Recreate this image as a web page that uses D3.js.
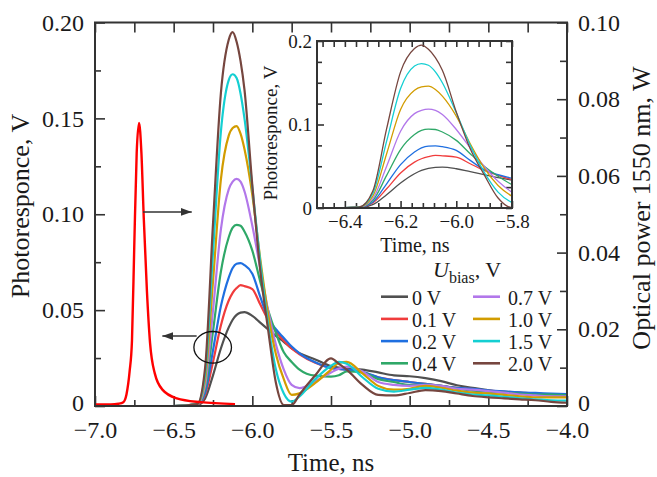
<!doctype html>
<html>
<head>
<meta charset="utf-8"/>
<title>Photoresponce</title>
<script src="https://cdn.jsdelivr.net/npm/d3@7"></script>
<style>
body{margin:0;background:#fff;}
</style>
</head>
<body>
<script>
// time, ns (shared by all bias curves)
var time = [-7.0, -6.5, -6.35, -6.3, -6.25, -6.2,
            -6.15, -6.125, -6.1, -6.075, -6.05, -6.0,
            -5.95, -5.9, -5.85, -5.8, -5.75, -5.7,
            -5.6, -5.5, -5.45, -5.4, -5.3, -5.2,
            -5.1, -5.0, -4.9, -4.8, -4.7, -4.6,
            -4.5, -4.4, -4.3, -4.2, -4.1, -4.0];

var biasLabels = ["0 V", "0.1 V", "0.2 V", "0.4 V", "0.7 V", "1.0 V", "1.5 V", "2.0 V"];
var biasColors = ["#505050", "#f03c3c", "#1f6fe0", "#2fa868", "#b277ea", "#d29c00", "#14cfd2", "#76463f"];

// photoresponce, V
var v00 = [0, 0, 0.0005, 0.004, 0.016, 0.030,
           0.041, 0.045, 0.0475, 0.0487, 0.049, 0.047,
           0.0435, 0.040, 0.0365, 0.0335, 0.030, 0.0275,
           0.0243, 0.0208, 0.020, 0.0195, 0.019, 0.0175,
           0.016, 0.0155, 0.0145, 0.013, 0.0108, 0.0095,
           0.0082, 0.0072, 0.0068, 0.0064, 0.006, 0.0057];
var v01 = [0, 0, 0.0008, 0.006, 0.023, 0.042,
           0.055, 0.059, 0.0615, 0.063, 0.0625, 0.061,
           0.053, 0.045, 0.039, 0.034, 0.030, 0.027,
           0.0225, 0.0198, 0.0193, 0.019, 0.0175, 0.015,
           0.0135, 0.0125, 0.0115, 0.0105, 0.0095, 0.0088,
           0.008, 0.0075, 0.007, 0.0065, 0.0062, 0.006];
var v02 = [0, 0, 0.001, 0.007, 0.029, 0.052,
           0.067, 0.072, 0.0742, 0.0745, 0.0735, 0.069,
           0.057, 0.046, 0.040, 0.0355, 0.031, 0.0275,
           0.0228, 0.0198, 0.0193, 0.019, 0.0178, 0.015,
           0.0135, 0.0125, 0.0115, 0.0105, 0.0095, 0.009,
           0.0082, 0.0076, 0.0071, 0.0068, 0.0065, 0.0062];
var v04 = [0, 0, 0.001, 0.009, 0.039, 0.070,
           0.088, 0.093, 0.0945, 0.094, 0.091, 0.081,
           0.065, 0.050, 0.038, 0.028, 0.023, 0.019,
           0.0158, 0.0153, 0.016, 0.018, 0.0175, 0.014,
           0.0125, 0.011, 0.011, 0.0105, 0.009, 0.008,
           0.0075, 0.007, 0.0065, 0.006, 0.006, 0.0057];
var v07 = [0, 0, 0.001, 0.011, 0.050, 0.092,
           0.113, 0.117, 0.1185, 0.117, 0.112, 0.094,
           0.072, 0.050, 0.032, 0.019, 0.011, 0.0093,
           0.013, 0.0175, 0.0195, 0.0205, 0.018, 0.0125,
           0.011, 0.0105, 0.011, 0.0105, 0.009, 0.0085,
           0.0078, 0.007, 0.006, 0.0055, 0.005, 0.005];
var v10 = [0, 0, 0.001, 0.014, 0.065, 0.118,
           0.141, 0.145, 0.146, 0.142, 0.134, 0.110,
           0.077, 0.048, 0.027, 0.014, 0.0058, 0.0066,
           0.012, 0.019, 0.0225, 0.023, 0.017, 0.0105,
           0.0085, 0.009, 0.0105, 0.0095, 0.008, 0.007,
           0.0066, 0.0058, 0.005, 0.0045, 0.0045, 0.0045];
var v15 = [0, 0, 0.001, 0.017, 0.080, 0.143,
           0.170, 0.173, 0.171, 0.163, 0.150, 0.114,
           0.075, 0.043, 0.019, 0.0065, 0.0023, 0.005,
           0.014, 0.021, 0.023, 0.022, 0.015, 0.009,
           0.0075, 0.0085, 0.0095, 0.0085, 0.007, 0.006,
           0.0055, 0.0048, 0.004, 0.0035, 0.003, 0.0028];
var v20 = [0, 0, 0.001, 0.020, 0.095, 0.163,
           0.191, 0.195, 0.190, 0.180, 0.165, 0.115,
           0.071, 0.040, 0.012, 0.0005, 0.0005, 0.006,
           0.016, 0.0248, 0.022, 0.019, 0.011, 0.0058,
           0.0055, 0.0068, 0.0083, 0.0078, 0.0065, 0.0052,
           0.0045, 0.004, 0.0035, 0.003, 0.0022, 0.0017];
var biasSeries = [v00, v01, v02, v04, v07, v10, v15, v20];

// optical pulse, W (right axis)
var optTime  = [-7.0, -6.9, -6.85, -6.82, -6.8, -6.78, -6.765, -6.75, -6.735, -6.72,
                -6.705, -6.69, -6.67, -6.65, -6.62, -6.57, -6.48, -6.33, -6.11];
var optPower = [0.0004, 0.0004, 0.0006, 0.001, 0.003, 0.009, 0.017, 0.0425, 0.066, 0.0738,
                0.066, 0.049, 0.030, 0.0164, 0.0085, 0.0042, 0.002, 0.001, 0.0005];

var xTicks = [-7.0, -6.5, -6.0, -5.5, -5.0, -4.5, -4.0];
var yTicks = [0, 0.05, 0.10, 0.15, 0.20];
var y2Ticks = [0, 0.02, 0.04, 0.06, 0.08, 0.10];
var insetXTicks = [-6.4, -6.2, -6.0, -5.8];
var insetYTicks = [0, 0.1, 0.2];

var serif = '"Liberation Serif","Times New Roman",serif';
var ink = "#333";

var svg = d3.select("body").append("svg")
    .attr("width", 657).attr("height", 477)
    .style("font-family", serif);

var x = d3.scaleLinear().domain([-7, -4]).range([95, 567]);
var y = d3.scaleLinear().domain([0, 0.2]).range([406, 22.5]);
var y2 = d3.scaleLinear().domain([0, 0.1]).range([406, 22.5]);

function fmt(n){
  return function(d){ return Math.abs(d) < 1e-9 ? "0" : d3.format("." + n + "f")(d); };
}

function putAxis(axis, tx, ty, fs){
  var g = svg.append("g").attr("transform", "translate(" + tx + "," + ty + ")").call(axis);
  g.select(".domain").remove();
  g.attr("font-family", serif).attr("font-size", fs);
  g.selectAll(".tick line").attr("stroke", ink).attr("stroke-width", 1.6);
  g.selectAll(".tick text").attr("fill", "#1a1a1a");
  return g;
}

function minorOf(lo, hi, step, majors){
  return d3.range(lo, hi + step / 2, step).filter(function(v){
    return !majors.some(function(m){ return Math.abs(m - v) < step / 4; });
  });
}

// clip paths
var defs = svg.append("defs");
defs.append("clipPath").attr("id", "clipMain").append("rect")
    .attr("x", 95).attr("y", 22.5).attr("width", 472).attr("height", 383.5);
defs.append("clipPath").attr("id", "clipInset").append("rect")
    .attr("x", 317).attr("y", 41).attr("width", 195).attr("height", 167);
defs.append("marker").attr("id", "arr")
    .attr("markerUnits", "userSpaceOnUse")
    .attr("markerWidth", 11).attr("markerHeight", 8)
    .attr("refX", 11).attr("refY", 4).attr("orient", "auto")
    .append("path").attr("d", "M0,0 L11,4 L0,8 Z").attr("fill", ink);

// main axes
putAxis(d3.axisBottom(x).tickValues(xTicks).tickSize(-10).tickPadding(15).tickFormat(d3.format(".1f")), 0, 406, 24);
putAxis(d3.axisBottom(x).tickValues(minorOf(-7, -4, 0.25, xTicks)).tickSize(-6).tickFormat(""), 0, 406, 24);
putAxis(d3.axisTop(x).tickValues(d3.range(-7, -3.99, 0.25)).tickSize(-10).tickFormat(""), 0, 22.5, 24);
var gl = putAxis(d3.axisLeft(y).tickValues(yTicks).tickSize(-10).tickPadding(11).tickFormat(fmt(2)), 95, 0, 24);
putAxis(d3.axisLeft(y).tickValues([0.025, 0.075, 0.125, 0.175]).tickSize(-6).tickFormat(""), 95, 0, 24);
var gr = putAxis(d3.axisRight(y2).tickValues(y2Ticks).tickSize(-10).tickPadding(11).tickFormat(fmt(2)), 567, 0, 24);
putAxis(d3.axisRight(y2).tickValues([0.01, 0.03, 0.05, 0.07, 0.09]).tickSize(-7).tickFormat(""), 567, 0, 24);
// the zero labels sit a touch higher, clear of the time labels
gl.selectAll(".tick text").filter(function(d){ return d === 0; }).attr("dy", "0.2em");
gr.selectAll(".tick text").filter(function(d){ return d === 0; }).attr("dy", "0.2em");

// main curves
var line = d3.line()
    .x(function(d){ return x(d[0]); })
    .y(function(d){ return y(d[1]); })
    .curve(d3.curveMonotoneX);

var mainG = svg.append("g").attr("clip-path", "url(#clipMain)");
biasSeries.forEach(function(s, i){
  mainG.append("path")
      .datum(time.map(function(t, k){ return [t, s[k]]; }))
      .attr("d", line)
      .attr("fill", "none")
      .attr("stroke", biasColors[i])
      .attr("stroke-width", 2.2);
});

var optLine = d3.line()
    .x(function(d){ return x(d[0]); })
    .y(function(d){ return y2(d[1]); })
    .curve(d3.curveMonotoneX);
mainG.append("path")
    .datum(optTime.map(function(t, k){ return [t, optPower[k]]; }))
    .attr("d", optLine)
    .attr("fill", "none")
    .attr("stroke", "#ff0000")
    .attr("stroke-width", 2.4);

// frame
svg.append("rect").attr("x", 95).attr("y", 22.5).attr("width", 472).attr("height", 383.5)
    .attr("fill", "none").attr("stroke", ink).attr("stroke-width", 2);

// annotations
svg.append("line")
    .attr("x1", x(-6.695)).attr("x2", x(-6.385))
    .attr("y1", y(0.1012)).attr("y2", y(0.1012))
    .attr("stroke", ink).attr("stroke-width", 1.5).attr("marker-end", "url(#arr)");
svg.append("line")
    .attr("x1", x(-6.354)).attr("x2", x(-6.572))
    .attr("y1", y(0.0365)).attr("y2", y(0.0365))
    .attr("stroke", ink).attr("stroke-width", 1.5).attr("marker-end", "url(#arr)");
svg.append("ellipse")
    .attr("cx", x(-6.252)).attr("cy", y(0.0306))
    .attr("rx", 18.8).attr("ry", 15.8)
    .attr("fill", "none").attr("stroke", "#111").attr("stroke-width", 1.3);

// axis titles
svg.append("text").attr("x", 331).attr("y", 471).attr("text-anchor", "middle")
    .attr("font-size", 25).attr("fill", "#1a1a1a").text("Time, ns");
svg.append("text").attr("transform", "translate(29,206) rotate(-90)").attr("text-anchor", "middle")
    .attr("font-size", 26).attr("fill", "#1a1a1a").text("Photoresponce, V");
svg.append("text").attr("transform", "translate(650,208) rotate(-90)").attr("text-anchor", "middle")
    .attr("font-size", 26).attr("fill", "#1a1a1a").text("Optical power 1550 nm, W");

// inset
var xi = d3.scaleLinear().domain([-6.5, -5.8]).range([317, 512]);
var yi = d3.scaleLinear().domain([0, 0.2]).range([208, 41]);

svg.append("rect").attr("x", 317).attr("y", 41).attr("width", 195).attr("height", 167).attr("fill", "#fff");

var inXMinor = minorOf(-6.48, -5.8, 0.04, insetXTicks);
var inYMinor = [0.025, 0.05, 0.075, 0.125, 0.15, 0.175];
putAxis(d3.axisBottom(xi).tickValues(insetXTicks).tickSize(-7).tickPadding(7).tickFormat(d3.format(".1f")), 0, 208, 19);
putAxis(d3.axisBottom(xi).tickValues(inXMinor).tickSize(-5).tickFormat(""), 0, 208, 19);
putAxis(d3.axisTop(xi).tickValues(insetXTicks.concat(inXMinor)).tickSize(-6).tickFormat(""), 0, 41, 19);
putAxis(d3.axisLeft(yi).tickValues(insetYTicks).tickSize(-7).tickPadding(5).tickFormat(fmt(1)), 317, 0, 19);
putAxis(d3.axisLeft(yi).tickValues(inYMinor).tickSize(-5).tickFormat(""), 317, 0, 19);
putAxis(d3.axisRight(yi).tickValues(insetYTicks.concat(inYMinor)).tickSize(-6).tickFormat(""), 512, 0, 19);

var lineIn = d3.line()
    .x(function(d){ return xi(d[0]); })
    .y(function(d){ return yi(d[1]); })
    .curve(d3.curveMonotoneX);
var inG = svg.append("g").attr("clip-path", "url(#clipInset)");
biasSeries.forEach(function(s, i){
  inG.append("path")
      .datum(time.map(function(t, k){ return [t, s[k]]; }))
      .attr("d", lineIn)
      .attr("fill", "none")
      .attr("stroke", biasColors[i])
      .attr("stroke-width", 1.3);
});
svg.append("rect").attr("x", 317).attr("y", 41).attr("width", 195).attr("height", 167)
    .attr("fill", "none").attr("stroke", ink).attr("stroke-width", 2);

svg.append("text").attr("x", 415).attr("y", 252).attr("text-anchor", "middle")
    .attr("font-size", 20).attr("fill", "#1a1a1a").text("Time, ns");
svg.append("text").attr("transform", "translate(277,133) rotate(-90)").attr("text-anchor", "middle")
    .attr("font-size", 19).attr("fill", "#1a1a1a").text("Photoresponce, V");

// legend
var lt = svg.append("text").attr("x", 433).attr("y", 277).attr("font-size", 22).attr("fill", "#1a1a1a");
lt.append("tspan").attr("font-style", "italic").text("U");
lt.append("tspan").attr("font-size", 16).attr("dy", 6).text("bias");
lt.append("tspan").attr("dy", -6).text(", V");

biasLabels.forEach(function(lab, i){
  var col = Math.floor(i / 4), row = i % 4;
  var x0 = col === 0 ? 381 : 473;
  var ly = 296.7 + row * 22.2;
  svg.append("line").attr("x1", x0).attr("x2", x0 + 27).attr("y1", ly).attr("y2", ly)
      .attr("stroke", biasColors[i]).attr("stroke-width", 2.6);
  svg.append("text").attr("x", x0 + (col === 0 ? 31 : 35)).attr("y", ly + 8)
      .attr("font-size", 20).attr("fill", "#1a1a1a").text(lab);
});
</script>
</body>
</html>
